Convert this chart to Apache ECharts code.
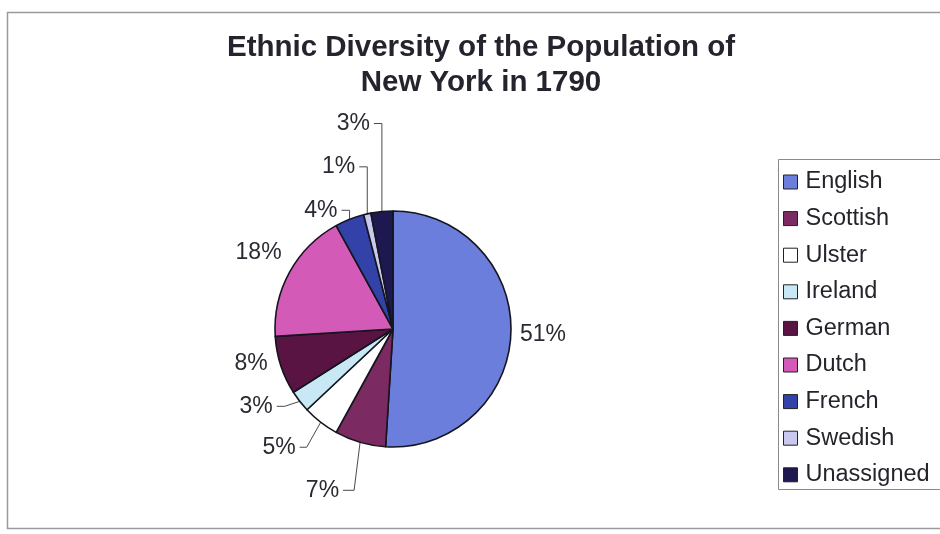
<!DOCTYPE html>
<html>
<head>
<meta charset="utf-8">
<script src="https://cdn.jsdelivr.net/npm/echarts@6/dist/echarts.min.js"></script>
<style>
html, body { margin: 0; padding: 0; background: #fff; }
#chart { width: 940px; height: 534px; }
</style>
</head>
<body>
<div id="chart"></div>
<script>
// Share of the 1790 New York population by ethnic origin (percent)
const categories = ['English', 'Scottish', 'Ulster', 'Ireland', 'German', 'Dutch', 'French', 'Swedish', 'Unassigned'];
const shares = [51, 7, 5, 3, 8, 18, 4, 1, 3];

const sliceColors = ['#6c7edc', '#7b2a62', '#ffffff', '#c8e8f5', '#5a1443', '#d35ab6', '#3242a8', '#c9c9f0', '#1d1850'];

// Label placement relative to the rim point of each slice.
// elbow: bend of the leader line; run: horizontal tick before the text.
// Entries without an elbow have no leader, only an offset.
const labelGuides = [
  { offset: [9, 2], side: 'left' },
  { elbow: [-6, 48], run: 11 },
  { elbow: [-14, 25], run: 7 },
  { elbow: [-15, 5], run: 8 },
  { offset: [-13, -2], side: 'right' },
  { offset: [-8, -19], side: 'right' },
  { elbow: [0, -9], run: 8 },
  { elbow: [0, -47], run: 8 },
  { elbow: [0, -88], run: 8 }
];

const FONT = '"Liberation Sans", Arial, sans-serif';
const chart = echarts.init(document.getElementById('chart'), null, { renderer: 'canvas' });

chart.setOption({
  backgroundColor: '#ffffff',
  animation: false,
  graphic: [{
    // chart area frame
    type: 'rect',
    silent: true,
    shape: { x: 7.5, y: 12.5, width: 960, height: 516 },
    style: { fill: 'none', stroke: '#9a9a9a', lineWidth: 1.5 }
  }, {
    // legend box, running past the right edge of the page
    type: 'rect',
    silent: true,
    shape: { x: 778.5, y: 159.5, width: 200, height: 330 },
    style: { fill: 'none', stroke: '#8a8a8a', lineWidth: 1 }
  }],
  title: {
    text: 'Ethnic Diversity of the Population of\nNew York in 1790',
    left: 481,
    top: 30,
    padding: 0,
    textAlign: 'center',
    textStyle: {
      fontFamily: FONT,
      fontWeight: 'bold',
      fontSize: 29.5,
      lineHeight: 35,
      color: '#24242e'
    }
  },
  legend: {
    orient: 'vertical',
    left: 778,
    top: 159,
    padding: [11, 4, 5, 5],
    itemGap: 12.6,
    itemWidth: 14,
    itemHeight: 14,
    icon: 'rect',
    borderWidth: 0,
    data: categories,
    textStyle: {
      fontFamily: FONT,
      fontSize: 23.5,
      lineHeight: 23.5,
      color: '#24242c',
      padding: [0, 0, 0, 3]
    },
    itemStyle: { borderColor: '#222', borderWidth: 1 }
  },
  series: [{
    type: 'pie',
    center: [393, 329],
    radius: 118,
    startAngle: 90,
    clockwise: true,
    avoidLabelOverlap: false,
    color: sliceColors,
    itemStyle: { borderColor: '#15151f', borderWidth: 1.6 },
    label: {
      show: true,
      position: 'outside',
      fontFamily: FONT,
      fontSize: 23,
      color: '#2a2a32',
      formatter: function (p) { return shares[p.dataIndex] + '%'; }
    },
    labelLine: {
      show: true,
      length: 10,
      length2: 8,
      lineStyle: { color: '#4a4a4a', width: 1 }
    },
    labelLayout: function (p) {
      const g = labelGuides[p.dataIndex];
      const pts = p.labelLinePoints;
      if (!pts) return {};
      const a = pts[0];
      if (!g.elbow) {
        return {
          x: a[0] + g.offset[0], y: a[1] + g.offset[1],
          align: g.side, verticalAlign: 'middle',
          labelLinePoints: [a, a, a]
        };
      }
      const e = [a[0] + g.elbow[0], a[1] + g.elbow[1]];
      const t = [e[0] - g.run, e[1]];
      return {
        x: t[0] - 4, y: t[1],
        align: 'right', verticalAlign: 'middle',
        labelLinePoints: [a, e, t]
      };
    },
    emphasis: { disabled: true },
    data: categories.map(function (name, i) { return { name: name, value: shares[i] }; })
  }]
});
</script>
</body>
</html>
